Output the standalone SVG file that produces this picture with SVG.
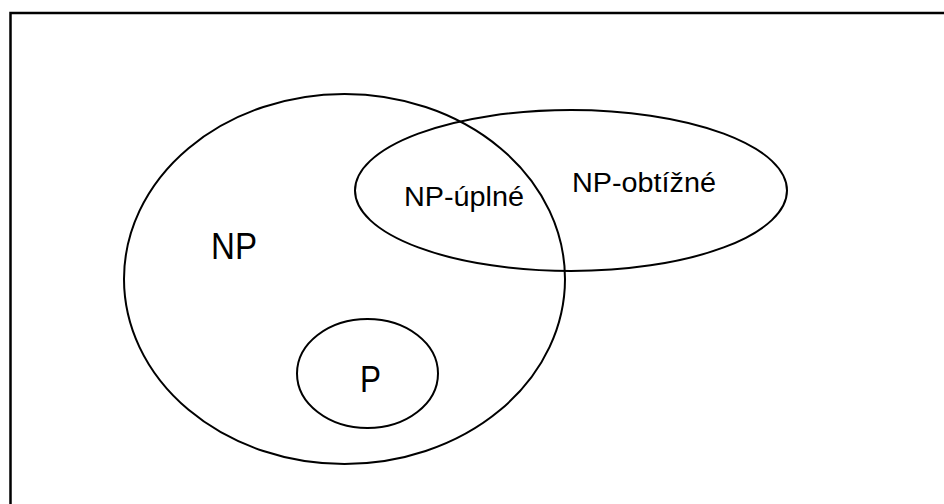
<svg xmlns="http://www.w3.org/2000/svg" width="944" height="504" viewBox="0 0 944 504">
<style>
  .shape { fill: none; stroke: #000; stroke-width: 2; }
  .frame { fill: none; stroke: #000; stroke-width: 2.5; }
  .lbl { font-family: "Liberation Sans", Arial, sans-serif; fill: #000; }
</style>
<rect width="944" height="504" fill="#fff"/>
<path class="frame" d="M10.5,504 V13 H944"/>
<g id="np">
  <ellipse class="shape" cx="344.5" cy="279" rx="220.5" ry="185"/>
  <text class="lbl" x="211" y="259" font-size="36" textLength="46" lengthAdjust="spacingAndGlyphs">NP</text>
</g>
<g id="np-hard">
  <ellipse class="shape" cx="571" cy="190.5" rx="216" ry="80.5"/>
  <text class="lbl" x="572" y="192" font-size="27" textLength="144" lengthAdjust="spacingAndGlyphs">NP-obtížné</text>
</g>
<g id="np-complete">
  <text class="lbl" x="404" y="206" font-size="27" textLength="120" lengthAdjust="spacingAndGlyphs">NP-úplné</text>
</g>
<g id="p">
  <ellipse class="shape" cx="367.5" cy="373.5" rx="70.5" ry="54.5"/>
  <text class="lbl" x="360" y="392" font-size="36" textLength="21" lengthAdjust="spacingAndGlyphs">P</text>
</g>
<g id="connectors"/>
</svg>
